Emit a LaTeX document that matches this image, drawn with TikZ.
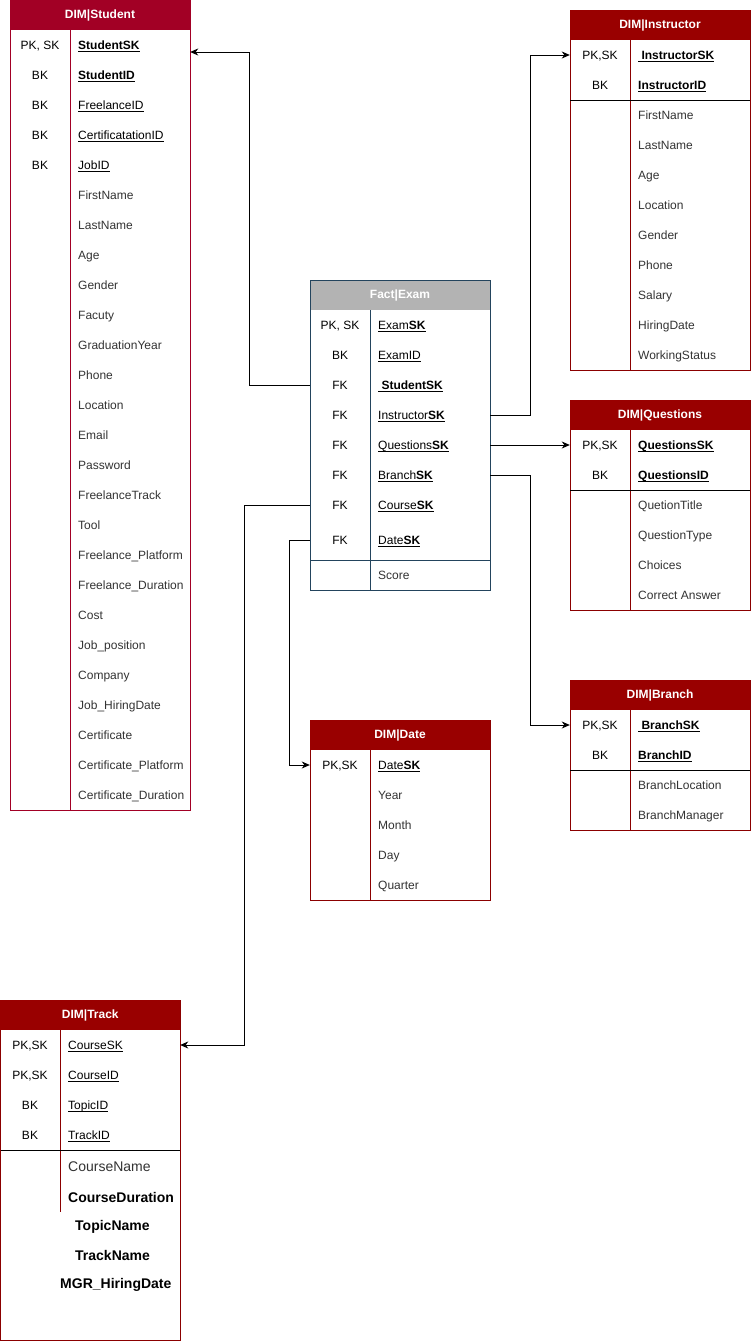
\documentclass[tikz,border=0pt]{standalone}
\usepackage{fontspec}
\setmainfont{Liberation Sans}
\usetikzlibrary{arrows.meta}
\definecolor{hdrred}{HTML}{990000}
\definecolor{hdrcrim}{HTML}{A20025}
\definecolor{strred}{HTML}{8B0000}
\definecolor{strcrim}{HTML}{A20025}
\definecolor{hdrgrey}{HTML}{B3B3B3}
\definecolor{strblue}{HTML}{23445D}
\definecolor{txtgrey}{HTML}{333333}
\newcommand\ulx[1]{\setbox0\hbox{#1}\rlap{\rule[-2pt]{\wd0}{0.8pt}}\box0}
\tikzset{
  keytxt/.style={inner sep=0pt, text height=8.6pt, text depth=0pt, font=\fontsize{12}{14}\selectfont, text=black},
  keyfld/.style={inner sep=0pt, anchor=west, text height=8.6pt, text depth=0pt, font=\fontsize{12}{14}\selectfont, text=black},
  fldtxt/.style={inner sep=0pt, anchor=west, text height=8.6pt, text depth=0pt, font=\fontsize{12}{14}\selectfont, text=txtgrey},
  bigtxt/.style={inner sep=0pt, anchor=west, text height=10pt, text depth=0pt, font=\fontsize{14}{16}\selectfont, text=black},
  hdrbox/.style={inner sep=0pt, minimum width=180pt, minimum height=30pt, text=white, font=\fontsize{12}{14}\selectfont\bfseries},
  rowbox/.style={inner sep=0pt, minimum width=180pt, minimum height=30pt, draw=none},
  frame/.style={line width=1pt, fill=white},
  sepline/.style={line width=1pt, black},
  arr/.style={-{Stealth[length=8pt,width=7pt,inset=2.5pt]}, line width=1pt, black},
}
\begin{document}
\begin{tikzpicture}[x=1pt,y=-1pt]
\useasboundingbox (0,0) rectangle (751,1341);
\fill[white] (0,0) rectangle (751,1341);

% ---------------- DIM|Student ----------------
\draw[frame, draw=strcrim] (10,0.5) rectangle (190,810);
\node[hdrbox, fill=hdrcrim] (stH) at (100,15) {DIM|Student};
\draw[line width=1pt, strcrim] (70,30) -- (70,810);
\node[rowbox] (stSK) at (100,45) {};
\node[keytxt] (stk1) at (40,45) {PK, SK};
\node[keytxt] (stk2) at (40,75) {BK};
\node[keytxt] (stk3) at (40,105) {BK};
\node[keytxt] (stk4) at (40,135) {BK};
\node[keytxt] (stk5) at (40,165) {BK};
\node[keyfld] (stn1) at (78,45) {\ulx{\textbf{StudentSK}}};
\node[keyfld] (stn2) at (78,75) {\ulx{\textbf{StudentID}}};
\node[keyfld] (stn3) at (78,105) {\ulx{FreelanceID}};
\node[keyfld] (stn4) at (78,135) {\ulx{CertificatationID}};
\node[keyfld] (stn5) at (78,165) {\ulx{JobID}};
\foreach \t [count=\i] in {FirstName,LastName,Age,Gender,Facuty,GraduationYear,Phone,Location,Email,Password,FreelanceTrack,Tool,Freelance\_Platform,Freelance\_Duration,Cost,Job\_position,Company,Job\_HiringDate,Certificate,Certificate\_Platform,Certificate\_Duration}
  \node[fldtxt] (stf\i) at (78,165+30*\i) {\t};

% ---------------- DIM|Instructor ----------------
\draw[frame, draw=strred] (570,10) rectangle (750,370);
\node[hdrbox, fill=hdrred] (inH) at (660,25) {DIM|Instructor};
\draw[line width=1pt, strred] (630,40) -- (630,370);
\draw[sepline] (570,100) -- (750,100);
\node[rowbox] (inSK) at (660,55) {};
\node[keytxt] (ink1) at (600,55) {PK,SK};
\node[keytxt] (ink2) at (600,85) {BK};
\node[keyfld] (inn1) at (638,55) {\ulx{\textbf{\ InstructorSK}}};
\node[keyfld] (inn2) at (638,85) {\ulx{\textbf{InstructorID}}};
\foreach \t [count=\i] in {FirstName,LastName,Age,Location,Gender,Phone,Salary,HiringDate,WorkingStatus}
  \node[fldtxt] (inf\i) at (638,85+30*\i) {\t};

% ---------------- Fact|Exam ----------------
\draw[frame, draw=strblue] (310,280) rectangle (490,590);
\node[hdrbox, fill=hdrgrey] (exH) at (400,295) {Fact|Exam};
\draw[line width=1pt, strblue] (310,280) rectangle (490,590);
\draw[line width=1pt, strblue] (370,310) -- (370,590);
\draw[line width=1pt, strblue] (310,560) -- (490,560);
\node[rowbox] (exStu) at (400,385) {};
\node[rowbox] (exIns) at (400,415) {};
\node[rowbox] (exQue) at (400,445) {};
\node[rowbox] (exBra) at (400,475) {};
\node[rowbox] (exCou) at (400,505) {};
\node[rowbox] (exDat) at (400,540) {};
\node[keytxt] (exk1) at (340,325) {PK, SK};
\node[keytxt] (exk2) at (340,355) {BK};
\node[keytxt] (exk3) at (340,385) {FK};
\node[keytxt] (exk4) at (340,415) {FK};
\node[keytxt] (exk5) at (340,445) {FK};
\node[keytxt] (exk6) at (340,475) {FK};
\node[keytxt] (exk7) at (340,505) {FK};
\node[keytxt] (exk8) at (340,540) {FK};
\node[keyfld] (exn1) at (378,325) {\ulx{Exam\textbf{SK}}};
\node[keyfld] (exn2) at (378,355) {\ulx{ExamID}};
\node[keyfld] (exn3) at (378,385) {\ulx{\ \textbf{StudentSK}}};
\node[keyfld] (exn4) at (378,415) {\ulx{Instructor\textbf{SK}}};
\node[keyfld] (exn5) at (378,445) {\ulx{Questions\textbf{SK}}};
\node[keyfld] (exn6) at (378,475) {\ulx{Branch\textbf{SK}}};
\node[keyfld] (exn7) at (378,505) {\ulx{Course\textbf{SK}}};
\node[keyfld] (exn8) at (378,540) {\ulx{Date\textbf{SK}}};
\node[fldtxt] (exf1) at (378,575) {Score};

% ---------------- DIM|Questions ----------------
\draw[frame, draw=strred] (570,400) rectangle (750,610);
\node[hdrbox, fill=hdrred] (quH) at (660,415) {DIM|Questions};
\draw[line width=1pt, strred] (630,430) -- (630,610);
\draw[sepline] (570,490) -- (750,490);
\node[rowbox] (quSK) at (660,445) {};
\node[keytxt] (quk1) at (600,445) {PK,SK};
\node[keytxt] (quk2) at (600,475) {BK};
\node[keyfld] (qun1) at (638,445) {\ulx{\textbf{QuestionsSK}}};
\node[keyfld] (qun2) at (638,475) {\ulx{\textbf{QuestionsID}}};
\foreach \t [count=\i] in {QuetionTitle,QuestionType,Choices,Correct Answer}
  \node[fldtxt] (quf\i) at (638,475+30*\i) {\t};

% ---------------- DIM|Branch ----------------
\draw[frame, draw=strred] (570,680) rectangle (750,830);
\node[hdrbox, fill=hdrred] (brH) at (660,695) {DIM|Branch};
\draw[line width=1pt, strred] (630,710) -- (630,830);
\draw[sepline] (570,770) -- (750,770);
\node[rowbox] (brSK) at (660,725) {};
\node[keytxt] (brk1) at (600,725) {PK,SK};
\node[keytxt] (brk2) at (600,755) {BK};
\node[keyfld] (brn1) at (638,725) {\ulx{\textbf{\ BranchSK}}};
\node[keyfld] (brn2) at (638,755) {\ulx{\textbf{BranchID}}};
\node[fldtxt] (brf1) at (638,785) {BranchLocation};
\node[fldtxt] (brf2) at (638,815) {BranchManager};

% ---------------- DIM|Date ----------------
\draw[frame, draw=strred] (310,720) rectangle (490,900);
\node[hdrbox, fill=hdrred] (daH) at (400,735) {DIM|Date};
\draw[line width=1pt, strred] (370,750) -- (370,900);
\node[rowbox] (daSK) at (400,765) {};
\node[keytxt] (dak1) at (340,765) {PK,SK};
\node[keyfld] (dan1) at (378,765) {\ulx{Date\textbf{SK}}};
\foreach \t [count=\i] in {Year,Month,Day,Quarter}
  \node[fldtxt] (daf\i) at (378,765+30*\i) {\t};

% ---------------- DIM|Track ----------------
\draw[frame, draw=strred] (0.5,1000) rectangle (180,1340);
\node[hdrbox, fill=hdrred] (trH) at (90.25,1015) {DIM|Track};
\draw[line width=1pt, strred] (60,1030) -- (60,1212);
\draw[sepline] (0.5,1150) -- (180,1150);
\node[rowbox] (trSK) at (90,1045) {};
\node[keytxt] (trk1) at (30,1045) {PK,SK};
\node[keytxt] (trk2) at (30,1075) {PK,SK};
\node[keytxt] (trk3) at (30,1105) {BK};
\node[keytxt] (trk4) at (30,1135) {BK};
\node[keyfld] (trn1) at (68,1045) {\ulx{CourseSK}};
\node[keyfld] (trn2) at (68,1075) {\ulx{CourseID}};
\node[keyfld] (trn3) at (68,1105) {\ulx{TopicID}};
\node[keyfld] (trn4) at (68,1135) {\ulx{TrackID}};
\node[bigtxt, text=txtgrey] (trf1) at (68,1166) {CourseName};
\node[bigtxt] (trf2) at (68,1197) {\textbf{CourseDuration}};
\node[bigtxt] (trf3) at (75,1225) {\textbf{TopicName}};
\node[bigtxt] (trf4) at (75,1255) {\textbf{TrackName}};
\node[bigtxt] (trf5) at (60,1283) {\textbf{MGR\_HiringDate}};

% ---------------- Connectors ----------------
\draw[arr] (exStu.west) -- ++(-60,0) |- ([yshift=-7pt]stSK.east);
\draw[arr] (exIns.east) -- ++(40,0) |- (inSK.west);
\draw[arr] (exQue.east) -- (quSK.west);
\draw[arr] (exBra.east) -- ++(40,0) |- (brSK.west);
\draw[arr] (exCou.west) -- ++(-65,0) |- (trSK.east);
\draw[arr] (exDat.west) -- ++(-20,0) |- (daSK.west);
\end{tikzpicture}
\end{document}
